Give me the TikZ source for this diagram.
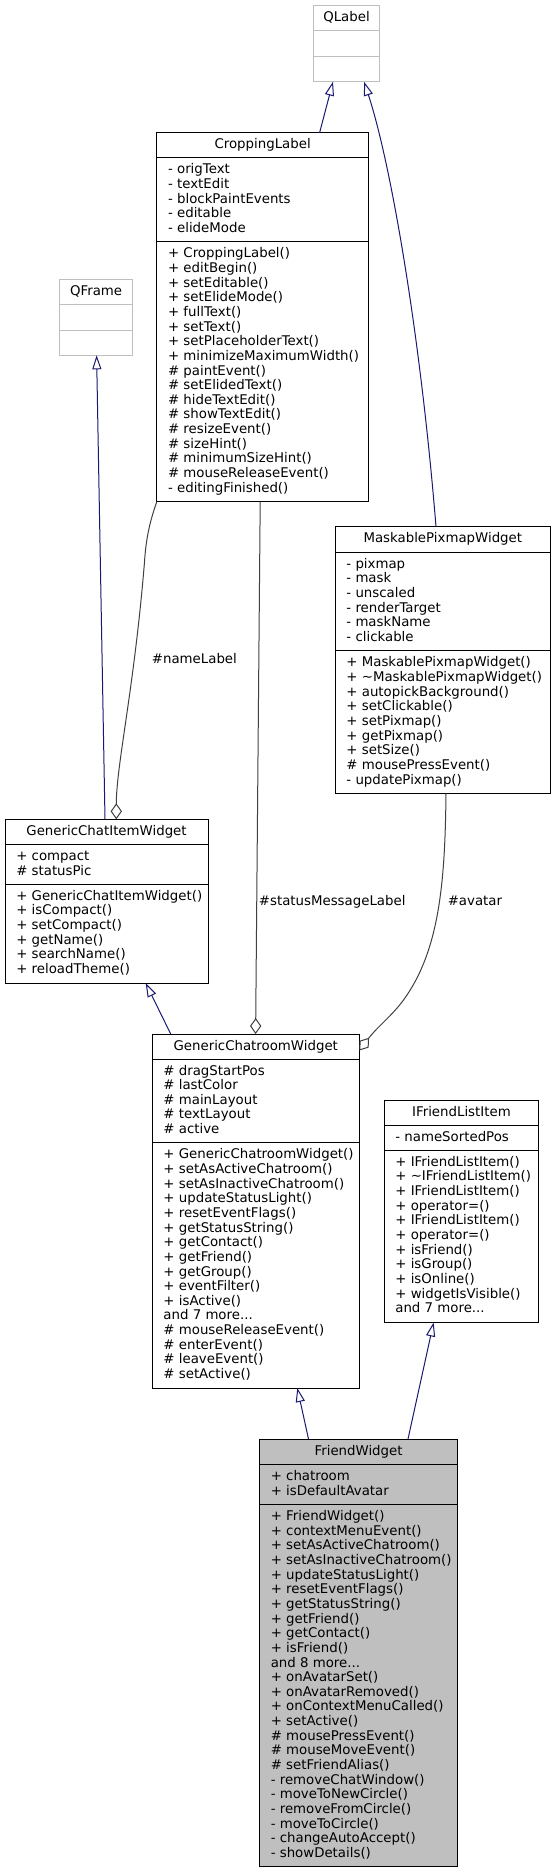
\documentclass[tikz,border=0pt]{standalone}
\usepackage{fontspec}
\setmainfont{DejaVu Sans}[Ligatures=NoCommon]
\usetikzlibrary{arrows.meta,calc,fit}
\definecolor{mblue}{HTML}{191970}
\definecolor{gtf}{HTML}{404040}
\definecolor{gsf}{HTML}{BFBFBF}
\newcommand\mydots{...}
\tikzset{
  cls/.style={draw=black, line width=0.75pt, inner sep=0pt, outer sep=0pt},
  clssep/.style={draw=black, line width=0.75pt},
  clsf/.style={draw=black, fill=gsf, line width=0.75pt, inner sep=0pt, outer sep=0pt},
  clsfsep/.style={draw=black, line width=0.75pt},
  ext/.style={draw=gsf, line width=0.75pt, inner sep=0pt, outer sep=0pt},
  extsep/.style={draw=gsf, line width=0.75pt},
  txt/.style={inner sep=0pt, font=\fontsize{10pt}{11pt}\selectfont, anchor=base west},
  ttl/.style={inner sep=0pt, font=\fontsize{10pt}{11pt}\selectfont, anchor=base},
  elab/.style={inner sep=0pt, font=\fontsize{10pt}{11pt}\selectfont, anchor=base},
  inh/.style={draw=mblue, line width=0.75pt, -{Triangle[open, length=10.5pt, width=6.8pt]}},
  agg/.style={draw=gtf, line width=0.75pt, -{Diamond[open, length=12pt, width=8.5pt]}},
}
% #1 name, #2 left, #3 right, #4 top, #5 sep1, #6 sep2, #7 bottom, #8 style
\newcommand\classbox[8]{%
  \node[#8, fit={(#2,#4) (#3,#7)}] (#1) {};
  \draw[#8sep] (#2,#5) -- (#3,#5);
  \draw[#8sep] (#2,#6) -- (#3,#6);
}
% #1 name prefix, #2 x, #3 first baseline, #4 list
\newcommand\clines[4]{%
  \foreach \mytxt [count=\i from 0] in {#4}
    \node[txt] (#1\i) at (#2, {#3+\i*14.65}) {\mytxt};
}
\begin{document}
\begin{tikzpicture}[x=0.75pt,y=-0.75pt]
\useasboundingbox (0,0) rectangle (555,1873);

% QLabel
\classbox{qlabel}{313.3}{379.8}{5.7}{31}{56.4}{81.7}{ext}
\node[ttl] (qlabelt) at (346.55,21.7) {QLabel};

% QFrame
\classbox{qframe}{59.5}{132.7}{279.3}{304.5}{330}{355.3}{ext}
\node[ttl] (qframet) at (96.1,295.3) {QFrame};

% CroppingLabel
\classbox{crop}{156.8}{368.5}{132.7}{157.9}{241.8}{501.7}{cls}
\node[ttl] (cropt) at (262.65,148.7) {CroppingLabel};
\clines{cropa}{167.8}{173.9}{- origText,- textEdit,- blockPaintEvents,- editable,- elideMode}
\clines{cropm}{167.8}{257.8}{+ CroppingLabel(),+ editBegin(),+ setEditable(),+ setElideMode(),+ fullText(),+ setText(),+ setPlaceholderText(),+ minimizeMaximumWidth(),\# paintEvent(),\# setElidedText(),\# hideTextEdit(),\# showTextEdit(),\# resizeEvent(),\# sizeHint(),\# minimumSizeHint(),\# mouseReleaseEvent(),- editingFinished()}

% MaskablePixmapWidget
\classbox{mask}{335.2}{550.4}{526.7}{552.3}{650.8}{793.7}{cls}
\node[ttl] (maskt) at (442.8,542.7) {MaskablePixmapWidget};
\clines{maska}{346.2}{568.3}{- pixmap,- mask,- unscaled,- renderTarget,- maskName,- clickable}
\clines{maskm}{346.2}{666.8}{+ MaskablePixmapWidget(),+ \textasciitilde MaskablePixmapWidget(),+ autopickBackground(),+ setClickable(),+ setPixmap(),+ getPixmap(),+ setSize(),\# mousePressEvent(),- updatePixmap()}

% GenericChatItemWidget
\classbox{gciw}{5}{208.1}{819.3}{844.5}{884.3}{983}{cls}
\node[ttl] (gciwt) at (106.55,835.3) {GenericChatItemWidget};
\clines{gciwa}{16}{860.5}{+ compact,\# statusPic}
\clines{gciwm}{16}{900.3}{+ GenericChatItemWidget(),+ isCompact(),+ setCompact(),+ getName(),+ searchName(),+ reloadTheme()}

% GenericChatroomWidget
\classbox{gcrw}{152.2}{359.3}{1034}{1059}{1142.8}{1388}{cls}
\node[ttl] (gcrwt) at (255.75,1050) {GenericChatroomWidget};
\clines{gcrwa}{163.2}{1075}{\# dragStartPos,\# lastColor,\# mainLayout,\# textLayout,\# active}
\clines{gcrwm}{163.2}{1158.8}{+ GenericChatroomWidget(),+ setAsActiveChatroom(),+ setAsInactiveChatroom(),+ updateStatusLight(),+ resetEventFlags(),+ getStatusString(),+ getContact(),+ getFriend(),+ getGroup(),+ eventFilter(),+ isActive(),and 7 more\mydots,\# mouseReleaseEvent(),\# enterEvent(),\# leaveEvent(),\# setActive()}

% IFriendListItem
\classbox{ifli}{384.1}{538.8}{1100}{1125.2}{1150.3}{1322.5}{cls}
\node[ttl] (iflit) at (461.45,1116) {IFriendListItem};
\clines{iflia}{395.1}{1141.2}{- nameSortedPos}
\clines{iflim}{395.1}{1166.3}{+ IFriendListItem(),+ \textasciitilde IFriendListItem(),+ IFriendListItem(),+ operator=(),+ IFriendListItem(),+ operator=(),+ isFriend(),+ isGroup(),+ isOnline(),+ widgetIsVisible(),and 7 more\mydots}

% FriendWidget
\classbox{fw}{259.5}{457.7}{1439}{1464.7}{1504.5}{1866.8}{clsf}
\node[ttl] (fwt) at (358.6,1455) {FriendWidget};
\clines{fwa}{270.5}{1480.7}{+ chatroom,+ isDefaultAvatar}
\clines{fwm}{270.5}{1520.5}{+ FriendWidget(),+ contextMenuEvent(),+ setAsActiveChatroom(),+ setAsInactiveChatroom(),+ updateStatusLight(),+ resetEventFlags(),+ getStatusString(),+ getFriend(),+ getContact(),+ isFriend(),and 8 more\mydots,+ onAvatarSet(),+ onAvatarRemoved(),+ onContextMenuCalled(),+ setActive(),\# mousePressEvent(),\# mouseMoveEvent(),\# setFriendAlias(),- removeChatWindow(),- moveToNewCircle(),- removeFromCircle(),- moveToCircle(),- changeAutoAccept(),- showDetails()}

% inheritance
\draw[inh] ($(crop.north west)+(162.8,0)$) -- ($(qlabel.south west)+(19.7,0)$);
\draw[inh] ($(mask.north west)+(100.8,0)$) .. controls (420,330) and (390,160) .. ($(qlabel.south west)+(50.7,0)$);
\draw[inh] ($(gciw.north west)+(100,0)$) -- ($(qframe.south west)+(37.1,0)$);
\draw[inh] ($(gcrw.north west)+(18.5,0)$) -- ($(gciw.south west)+(140.7,0)$);
\draw[inh] ($(fw.north west)+(49,0)$) -- ($(gcrw.south west)+(145.1,0)$);
\draw[inh] ($(fw.north west)+(148.5,0)$) -- ($(ifli.south west)+(49.5,0)$);

% aggregation
\draw[agg] (crop.south west) .. controls (150,521) and (146,538) .. (144.5,562)
  .. controls (134,690) and (116.3,765) .. ($(gciw.north west)+(111.3,0)$);
\node[elab] (lname) at (194.4,663.6) {\#nameLabel};
\draw[agg] ($(crop.south west)+(103.4,0)$) -- ($(gcrw.north west)+(103.4,0)$);
\node[elab] (lstatus) at (332.2,905) {\#statusMessageLabel};
\draw[agg] ($(mask.south west)+(110.8,0)$) .. controls (445,880) and (440,950) .. (403.5,1000)
  .. controls (392,1015.8) and (378,1026) .. ($(gcrw.north east)+(0,16.5)$);
\node[elab] (lavatar) at (474.9,905) {\#avatar};
\end{tikzpicture}
\end{document}
